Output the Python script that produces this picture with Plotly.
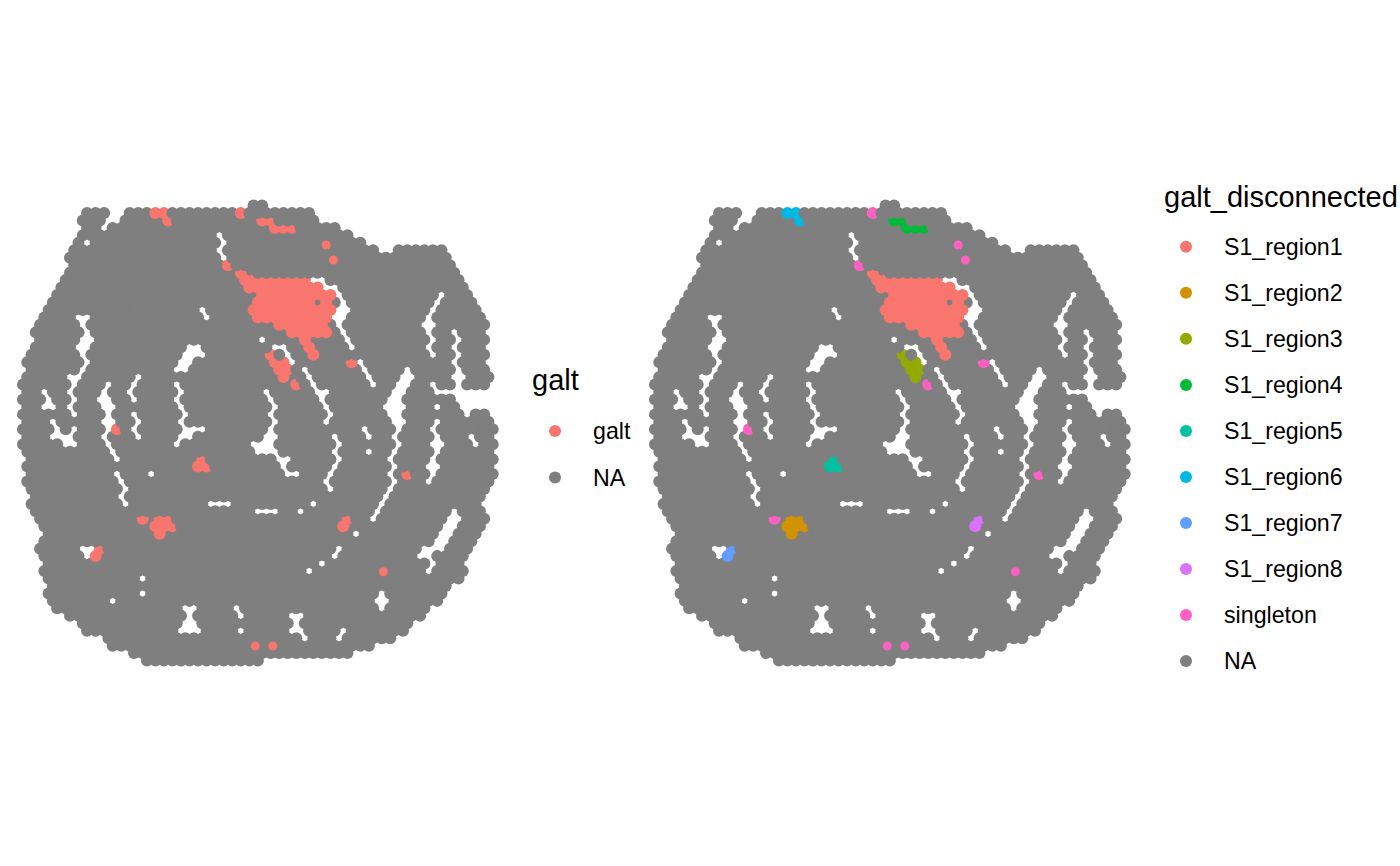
import plotly.graph_objects as go

# Spot array: row -> (first half-column, last half-column)
row_first = [54,15,14,15,14,13,12,11,12,11,10,9,8,7,6,5,4,3,4,3,2,1,2,1,0,1,0,1,0,1,0,1,0,1,2,1,2,1,2,3,2,3,4,5,6,5,4,5,6,5,6,7,6,7,8,11,14,15,20,21,26,29]
row_last = [56,67,68,73,76,79,98,99,100,101,102,103,104,105,106,107,108,107,108,107,108,107,108,109,108,95,100,101,108,109,110,109,110,109,110,109,110,109,108,107,106,107,108,107,106,105,104,103,102,103,102,99,98,97,94,93,90,89,86,81,76,55]
# Tissue-free spots inside each row
gaps = {1:[21,23],2:[20,22],3:[19],4:[46],5:[15,47],6:[46,84,86],7:[47],10:[68,70],11:[71,73],12:[74,98],13:[75,97],
14:[42,74,76,96],15:[13,15,43,73,75,95],16:[14,74,94,96],17:[15,75,95,101],18:[14,16,56,76,96,102],
19:[13,15,39,41,59,61,77,95,101],20:[14,38,40,42,62,96,102],21:[15,37,39,63,79,101],22:[14,36,38,66,80,90,102],
23:[11,13,27,67,81,89,91,101,103],24:[12,20,26,36,68,82,88,90,96,102],25:[5,11,19,25,37,57,69,71,87,89],
26:[6,12,18,20,26,36,58,70,86,88],27:[5,7,11,19,21,37,59,71,85,87,89,97],28:[12,20,26,38,58,72,86,88,104],
29:[7,19,21,27,37,59,71,87,89,97],30:[8,12,20,26,38,40,42,58,80,88,96],31:[7,9,11,19,27,37,39,57,59,73,81,87,97,105],
32:[10,12,20,36,54,56,58,74,88,96,98,106],33:[21,55,57,59,73,81,87,97],34:[22,60,62,74,86,96],35:[61,73,87,95,97],
36:[22,30,62,64,72,86,96],37:[23,71,87,95],38:[24,72,86],39:[23,85],40:[24,44,46,48,68,84],41:[55,57,59,65,83,101],
42:[82,100,102],43:[99,101],44:[78,98,100],45:[97,99],46:[14,16,74,94,96,98],47:[15,73,93,95],48:[70,96],49:[67,95],
50:[28],52:[28,84],53:[21,83,85],54:[38,40,50,84],55:[39,51,63,65],56:[38,40,64],57:[37,39,41,51,63,65,75],58:[66,74]}

# (row, half-column) of spots per cluster
region1 = [(9,51),(10,52)]+[(10,c) for c in range(54,67,2)]+[(11,c) for c in range(53,70,2)]+[(12,c) for c in range(56,73,2)]\
 +[(13,c) for c in range(55,72,2) if c!=69]+[(14,c) for c in range(54,73,2)]+[(15,c) for c in range(55,72,2)]+[(16,c) for c in range(60,71,2)]\
 +[(17,c) for c in range(63,72,2)]+[(18,66),(19,67),(20,68)]
region2 = [(42,32),(42,34),(43,31),(43,33),(43,35),(44,32)]
region3 = [(20,58),(21,59),(21,61),(22,60),(22,62),(23,61)]
region4 = [(2,56),(2,58),(3,59),(3,61),(3,63)]
region5 = [(34,42),(35,41),(35,43)]
region6 = [(1,31),(1,33),(2,34)]
region7 = [(46,18),(47,17)]
region8 = [(42,76),(43,75)]
singleton = [(1,51),(8,48),(21,77),(24,64),(30,22),(42,28),(36,90)]
# Small heart-shaped visible remnants of isolated spots (row, half-column as read)
small_singleton = [(5.3,71),(7.3,72.7),(49.1,84.4),(59.05,54.4),(59.05,58.5)]

cluster_names = ["S1_region1","S1_region2","S1_region3","S1_region4","S1_region5","S1_region6","S1_region7","S1_region8","singleton"]
cluster_spots = [region1,region2,region3,region4,region5,region6,region7,region8,singleton]
cluster_colors = ["#F8766D","#D39200","#93AA00","#00BA38","#00C19F","#00B9E3","#619CFF","#DB72FB","#FF61C3"]
na_color = "#7F7F7F"
galt_color = "#F8766D"

X0, DX, Y0, DY, SHIFT = 23.0, 4.27, 205.5, 7.46, 632
W, H = 1400, 866
SIZE = 12

all_spots = []
for k,(a,b) in enumerate(zip(row_first,row_last)):
    miss = set(gaps.get(k,[]))
    for c in range(a,b+1):
        if (c+k)%2==0 and c not in miss:
            all_spots.append((k,c))
colored = {s for group in cluster_spots for s in group}
# gray spots painted before the coloured ones (paint order seen in the picture)
below = {(13,69)}
for k,c in colored:
    below |= {(k,c-2),(k+1,c-1),(k+1,c+1)}
for k,c in region1:
    below.add((k,c+2))
below -= colored
gray_below = [s for s in all_spots if s in below]
top_gray = [s for s in all_spots if s not in colored and s not in below]

def xs(sp): return [c for k,c in sp]
def ys(sp): return [k for k,c in sp]

fig = go.Figure()
def add(sp,color,ax,size=SIZE):
    fig.add_trace(go.Scatter(x=xs(sp),y=ys(sp),mode="markers",xaxis="x"+ax,yaxis="y",hoverinfo="skip",
        marker=dict(size=size,color=color,line=dict(width=0)),showlegend=False))

# left panel
add(gray_below,na_color,"")
add([s for g in cluster_spots for s in g],galt_color,"")
add(top_gray,na_color,"")
add(small_singleton,galt_color,"",9)
# right panel
add(gray_below,na_color,"2")
for g,col in zip(cluster_spots,cluster_colors):
    add(g,col,"2")
add(top_gray,na_color,"2")
add(small_singleton,cluster_colors[-1],"2",9)

# legends
leg1_labels=["galt","NA"]; leg1_colors=[galt_color,na_color]; leg1_y=[431,477.5]
leg2_labels=cluster_names+["NA"]; leg2_colors=cluster_colors+[na_color]
leg2_y=[246.7,292.7,338.7,385,431,477,523,569,615,661]
fig.add_trace(go.Scatter(x=[555]*2,y=leg1_y,mode="markers",xaxis="x3",yaxis="y3",hoverinfo="skip",showlegend=False,
    marker=dict(size=SIZE,color=leg1_colors,line=dict(width=0))))
fig.add_trace(go.Scatter(x=[1186]*10,y=leg2_y,mode="markers",xaxis="x3",yaxis="y3",hoverinfo="skip",showlegend=False,
    marker=dict(size=SIZE,color=leg2_colors,line=dict(width=0))))

FONT="Liberation Sans"
ann=[]
def text(x,y,t,s):
    ann.append(dict(x=x,y=y,xref="x3",yref="y3",text=t,showarrow=False,xanchor="left",yanchor="middle",
                    font=dict(family=FONT,size=s,color="black")))
text(530,380,"galt",29)
text(1162,197,"galt_disconnected",29)
for l,y in zip(leg1_labels,leg1_y): text(591,y,l,23.2)
for l,y in zip(leg2_labels,leg2_y): text(1222,y,l,23.2)

PANEL_W=560
def xr(): return [(0-X0)/DX,(PANEL_W-X0)/DX]
hidden=dict(visible=False,showgrid=False,zeroline=False)
fig.update_layout(width=W,height=H,margin=dict(l=0,r=0,t=0,b=0),paper_bgcolor="white",plot_bgcolor="rgba(0,0,0,0)",
    showlegend=False,annotations=ann,
    xaxis=dict(domain=[0,PANEL_W/W],range=xr(),**hidden),
    xaxis2=dict(domain=[SHIFT/W,(SHIFT+PANEL_W)/W],range=xr(),anchor="y",**hidden),
    yaxis=dict(domain=[0,1],range=[(H-Y0)/DY,-Y0/DY],**hidden),
    xaxis3=dict(domain=[0,1],range=[0,W],anchor="y3",**hidden),
    yaxis3=dict(domain=[0,1],range=[H,0],anchor="x3",overlaying="y",**hidden))
fig.write_html("out.html",config={"displayModeBar":False},post_script="document.body.style.margin='0';")
